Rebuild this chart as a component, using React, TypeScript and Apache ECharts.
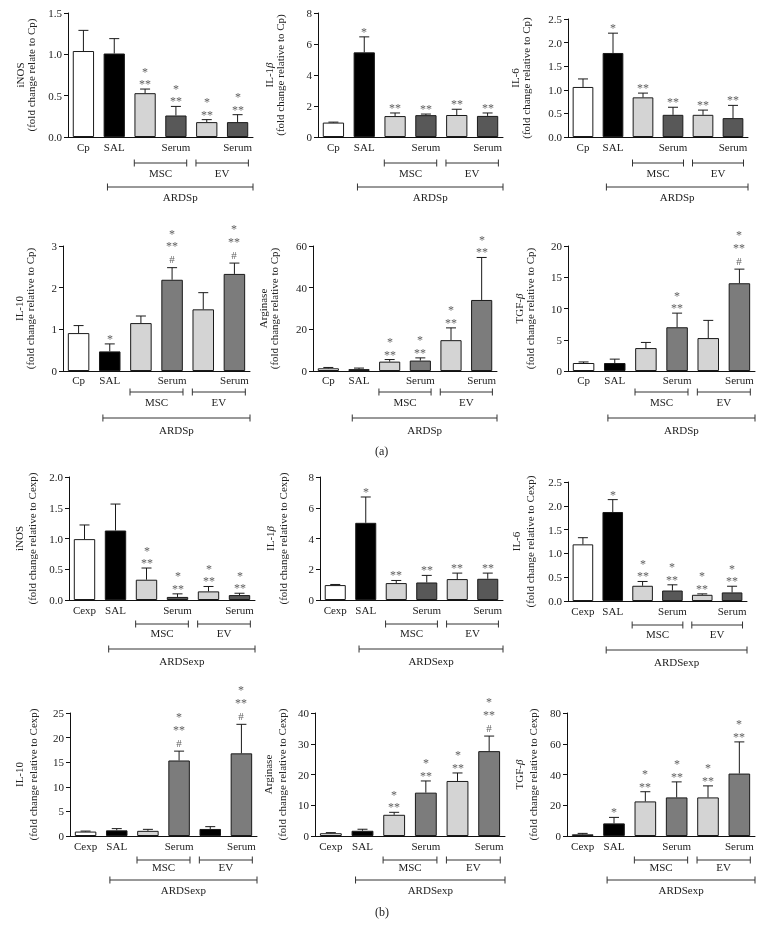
import React, { useEffect, useRef } from "react";
import * as echarts from "echarts";

// ---------- categories / labels ----------
const catsA = ["Cp", "SAL", "", "Serum", "", "Serum"];
const catsB = ["Cexp", "SAL", "", "Serum", "", "Serum"];
const groupLabels = ["MSC", "EV"];
const ardsA = "ARDSp";
const ardsB = "ARDSexp";

// ---------- (a) panels ----------
const inosCp = [1.04, 1.01, 0.53, 0.26, 0.18, 0.18];
const inosCpErr = [0.25, 0.18, 0.05, 0.11, 0.03, 0.09];
const inosCpSig = ["", "", "*\n**", "*\n**", "*\n**", "*\n**"];

const il1bCp = [0.93, 5.46, 1.35, 1.41, 1.42, 1.36];
const il1bCpErr = [0.03, 1.0, 0.2, 0.07, 0.37, 0.19];
const il1bCpSig = ["", "*", "**", "**", "**", "**"];

const il6Cp = [1.06, 1.78, 0.84, 0.47, 0.47, 0.4];
const il6CpErr = [0.17, 0.42, 0.09, 0.16, 0.1, 0.27];
const il6CpSig = ["", "*", "**", "**", "**", "**"];

const il10Cp = [0.91, 0.47, 1.15, 2.19, 1.48, 2.33];
const il10CpErr = [0.18, 0.18, 0.17, 0.29, 0.4, 0.26];
const il10CpSig = ["", "*", "", "*\n**\n#", "", "*\n**\n#"];

const argCp = [1.3, 0.9, 4.5, 5.0, 14.8, 34.1];
const argCpErr = [0.4, 0.5, 1.0, 1.3, 5.9, 20.4];
const argCpSig = ["", "", "*\n**", "*\n**", "*\n**", "*\n**"];

const tgfCp = [1.28, 1.28, 3.67, 7.0, 5.27, 14.04];
const tgfCpErr = [0.17, 0.62, 0.9, 2.26, 2.83, 2.26];
const tgfCpSig = ["", "", "", "*\n**", "", "*\n**\n#"];

// ---------- (b) panels ----------
const inosCexp = [0.99, 1.13, 0.33, 0.05, 0.14, 0.08];
const inosCexpErr = [0.23, 0.43, 0.19, 0.05, 0.08, 0.03];
const inosCexpSig = ["", "", "*\n**", "*\n**", "*\n**", "*\n**"];

const il1bCexp = [0.97, 5.02, 1.1, 1.14, 1.36, 1.38];
const il1bCexpErr = [0.04, 1.68, 0.17, 0.46, 0.39, 0.37];
const il1bCexpSig = ["", "*", "**", "**", "**", "**"];

const il6Cexp = [1.19, 1.87, 0.32, 0.22, 0.13, 0.18];
const il6CexpErr = [0.14, 0.26, 0.09, 0.12, 0.02, 0.13];
const il6CexpSig = ["", "*", "*\n**", "*\n**", "*\n**", "*\n**"];

const il10Cexp = [0.9, 1.15, 1.05, 15.35, 1.43, 16.8];
const il10CexpErr = [0.1, 0.35, 0.3, 1.9, 0.47, 5.9];
const il10CexpSig = ["", "", "", "*\n**\n#", "", "*\n**\n#"];

const argCexp = [0.9, 1.7, 6.9, 14.1, 17.9, 27.6];
const argCexpErr = [0.2, 0.5, 0.8, 3.8, 2.6, 4.9];
const argCexpSig = ["", "", "*\n**", "*\n**", "*\n**", "*\n**\n#"];

const tgfCexp = [1.1, 8.2, 22.5, 25.1, 25.1, 40.6];
const tgfCexpErr = [0.6, 3.9, 6.3, 10.1, 7.5, 20.6];
const tgfCexpSig = ["", "*", "*\n**", "*\n**", "*\n**", "*\n**"];

// ---------- styles ----------
const FONT = "'Liberation Serif', 'DejaVu Serif', serif";
const W = "#ffffff";
const K = "#000000";
const L = "#d4d4d4";
const D = "#585858";
const M = "#7c7c7c";
const palDark = [W, K, L, D, L, D];
const palMid = [W, K, L, M, L, M];
const palIL10b = [W, K, L, M, K, M];

type Panel = {
  vals: number[];
  errs: number[];
  sigs: string[];
  cats: string[];
  ards: string;
  name: string;
  max: number;
  interval: number;
  dec: boolean;
  pal: string[];
  rect: [number, number, number, number];
  nameGap: number;
  nameLH: number;
  offs: number[];
};

const offA1 = [4, 26, 36, 50, 60];
const offA2 = [3, 21, 31, 47, 59];
const offB1 = [4, 24, 33, 49, 61];
const offB2 = [4, 24, 31, 44, 54];

const panels: Panel[] = [
  { vals: inosCp, errs: inosCpErr, sigs: inosCpSig, cats: catsA, ards: ardsA, name: "iNOS\n(fold change relate to Cp)", max: 1.5, interval: 0.5, dec: true, pal: palDark, rect: [68, 13, 185, 124], nameGap: 32, nameLH: 11, offs: offA1 },
  { vals: il1bCp, errs: il1bCpErr, sigs: il1bCpSig, cats: catsA, ards: ardsA, name: "IL-1{i|β}\n(fold change relative to Cp)", max: 8, interval: 2, dec: false, pal: palDark, rect: [318, 13, 185, 124], nameGap: 33, nameLH: 11, offs: offA1 },
  { vals: il6Cp, errs: il6CpErr, sigs: il6CpSig, cats: catsA, ards: ardsA, name: "IL-6\n(fold change relative to Cp)", max: 2.5, interval: 0.5, dec: true, pal: palDark, rect: [568, 19, 180, 118], nameGap: 37, nameLH: 11, offs: offA1 },
  { vals: il10Cp, errs: il10CpErr, sigs: il10CpSig, cats: catsA, ards: ardsA, name: "IL-10\n(fold change relative to Cp)", max: 3, interval: 1, dec: false, pal: palMid, rect: [63, 246, 187, 125], nameGap: 28, nameLH: 11, offs: offA2 },
  { vals: argCp, errs: argCpErr, sigs: argCpSig, cats: catsA, ards: ardsA, name: "Arginase\n(fold change relative to Cp)", max: 60, interval: 20, dec: false, pal: palMid, rect: [313, 246, 184, 125], nameGap: 34, nameLH: 11, offs: offA2 },
  { vals: tgfCp, errs: tgfCpErr, sigs: tgfCpSig, cats: catsA, ards: ardsA, name: "TGF-{i|β}\n(fold change relative to Cp)", max: 20, interval: 5, dec: false, pal: palMid, rect: [568, 246, 187, 125], nameGap: 33, nameLH: 11, offs: offA2 },
  { vals: inosCexp, errs: inosCexpErr, sigs: inosCexpSig, cats: catsB, ards: ardsB, name: "iNOS\n(fold change relative to Cexp)", max: 2, interval: 0.5, dec: true, pal: palDark, rect: [69, 477, 186, 123], nameGap: 31, nameLH: 13, offs: offB1 },
  { vals: il1bCexp, errs: il1bCexpErr, sigs: il1bCexpSig, cats: catsB, ards: ardsB, name: "IL-1{i|β}\n(fold change relative to Cexp)", max: 8, interval: 2, dec: false, pal: palDark, rect: [320, 477, 183, 123], nameGap: 31, nameLH: 13, offs: offB1 },
  { vals: il6Cexp, errs: il6CexpErr, sigs: il6CexpSig, cats: catsB, ards: ardsB, name: "IL-6\n(fold change relative to Cexp)", max: 2.5, interval: 0.5, dec: true, pal: palDark, rect: [568, 482, 179, 119], nameGap: 31, nameLH: 14, offs: offB1 },
  { vals: il10Cexp, errs: il10CexpErr, sigs: il10CexpSig, cats: catsB, ards: ardsB, name: "IL-10\n(fold change relative to Cexp)", max: 25, interval: 5, dec: false, pal: palIL10b, rect: [70, 713, 187, 123], nameGap: 30, nameLH: 14, offs: offB2 },
  { vals: argCexp, errs: argCexpErr, sigs: argCexpSig, cats: catsB, ards: ardsB, name: "Arginase\n(fold change relative to Cexp)", max: 40, interval: 10, dec: false, pal: palMid, rect: [315, 713, 190, 123], nameGap: 26, nameLH: 14, offs: offB2 },
  { vals: tgfCexp, errs: tgfCexpErr, sigs: tgfCexpSig, cats: catsB, ards: ardsB, name: "TGF-{i|β}\n(fold change relative to Cexp)", max: 80, interval: 20, dec: false, pal: palMid, rect: [567, 713, 188, 123], nameGap: 27, nameLH: 14, offs: offB2 },
];

const SIG_STEP = 12.5;

function buildOption() {
  const grid: any[] = [];
  const xAxis: any[] = [];
  const yAxis: any[] = [];
  const series: any[] = [];

  panels.forEach((p, idx) => {
    grid.push({ left: p.rect[0], top: p.rect[1], width: p.rect[2], height: p.rect[3], containLabel: false });
    xAxis.push({
      type: "category",
      gridIndex: idx,
      data: p.cats,
      axisLine: { show: true, lineStyle: { color: "#111", width: 1 } },
      axisTick: { show: false },
      axisLabel: { interval: 0, margin: p.offs[0], fontSize: 11, color: "#222", fontFamily: FONT },
      splitLine: { show: false },
    });
    yAxis.push({
      type: "value",
      gridIndex: idx,
      min: 0,
      max: p.max,
      interval: p.interval,
      axisLine: { show: true, lineStyle: { color: "#111", width: 1 } },
      axisTick: { show: true, length: 4, lineStyle: { color: "#111" } },
      splitLine: { show: false },
      axisLabel: {
        margin: 6,
        fontSize: 11,
        color: "#222",
        fontFamily: FONT,
        formatter: (v: number) => (p.dec ? v.toFixed(1) : String(v)),
      },
      name: p.name,
      nameLocation: "middle",
      nameRotate: 90,
      nameGap: p.nameGap,
      nameTextStyle: {
        fontSize: 11,
        color: "#222",
        fontFamily: FONT,
        lineHeight: p.nameLH,
        rich: {
          i: { fontSize: 11, fontStyle: "italic", color: "#222", fontFamily: FONT, lineHeight: p.nameLH },
        },
      },
    });

    series.push({
      type: "bar",
      xAxisIndex: idx,
      yAxisIndex: idx,
      barCategoryGap: "31%",
      data: p.vals.map((v, i) => ({
        value: v,
        itemStyle: { color: p.pal[i], borderColor: "#1a1a1a", borderWidth: 1 },
      })),
      z: 2,
    });

    series.push({
      type: "custom",
      xAxisIndex: idx,
      yAxisIndex: idx,
      clip: false,
      z: 4,
      data: p.vals.map((v, i) => [i, v, p.errs[i]]),
      renderItem: (_params: any, api: any) => {
        const i = api.value(0);
        const v = api.value(1);
        const e = api.value(2);
        const base = api.coord([i, v]);
        const top = api.coord([i, v + e]);
        const children: any[] = [
          { type: "line", shape: { x1: base[0], y1: base[1], x2: top[0], y2: top[1] }, style: { stroke: "#1a1a1a", lineWidth: 1 } },
          { type: "line", shape: { x1: top[0] - 5, y1: top[1], x2: top[0] + 5, y2: top[1] }, style: { stroke: "#1a1a1a", lineWidth: 1 } },
        ];
        const sig = p.sigs[i];
        if (sig) {
          const lines = sig.split("\n");
          const gap = sig.endsWith("#") ? 3 : -1;
          const n = lines.length;
          lines.forEach((ln, k) => {
            const fromBottom = n - 1 - k;
            children.push({
              type: "text",
              x: Math.round(top[0]),
              y: top[1] - gap - fromBottom * SIG_STEP,
              style: {
                text: ln,
                align: "center",
                verticalAlign: "bottom",
                textAlign: "center",
                textVerticalAlign: "bottom",
                fontSize: ln === "#" ? 11 : 12,
                fontFamily: FONT,
                fill: "#606060",
              },
            });
          });
        }
        return { type: "group", children };
      },
    });

    series.push({
      type: "custom",
      xAxisIndex: idx,
      yAxisIndex: idx,
      clip: false,
      z: 4,
      silent: true,
      data: [
        [2, 3, 0],
        [4, 5, 1],
        [1, 5, 2],
      ],
      renderItem: (_params: any, api: any) => {
        const a = api.value(0);
        const b = api.value(1);
        const kind = api.value(2);
        const catW = api.size([1, 0])[0];
        const y0 = api.coord([0, 0])[1];
        let x1: number, x2: number, y: number, ty: number, text: string;
        if (kind < 2) {
          x1 = api.coord([a, 0])[0] - catW * 0.35;
          x2 = api.coord([b, 0])[0] + catW * 0.35;
          y = y0 + p.offs[1];
          ty = y0 + p.offs[2];
          text = groupLabels[kind];
        } else {
          x1 = api.coord([a, 0])[0] - catW * 0.22;
          x2 = api.coord([b, 0])[0] + catW * 0.5;
          y = y0 + p.offs[3];
          ty = y0 + p.offs[4];
          text = p.ards;
        }
        const st = { stroke: "#333", lineWidth: 1 };
        return {
          type: "group",
          children: [
            { type: "line", shape: { x1, y1: y, x2, y2: y }, style: st },
            { type: "line", shape: { x1, y1: y - 3.5, x2: x1, y2: y + 3.5 }, style: st },
            { type: "line", shape: { x1: x2, y1: y - 3.5, x2, y2: y + 3.5 }, style: st },
            {
              type: "text",
              x: (x1 + x2) / 2,
              y: ty,
              style: {
                text,
                align: "center",
                verticalAlign: "middle",
                textAlign: "center",
                textVerticalAlign: "middle",
                fontSize: 11,
                fontFamily: FONT,
                fill: "#222",
              },
            },
          ],
        };
      },
    });
  });

  return {
    animation: false,
    backgroundColor: "#ffffff",
    grid,
    xAxis,
    yAxis,
    series,
    graphic: [
      { type: "text", left: 375, top: 445, style: { text: "(a)", fontSize: 12, fontFamily: FONT, fill: "#222" } },
      { type: "text", left: 375, top: 906, style: { text: "(b)", fontSize: 12, fontFamily: FONT, fill: "#222" } },
    ],
  };
}

export default function App() {
  const ref = useRef<HTMLDivElement>(null);
  useEffect(() => {
    if (!ref.current) return;
    const chart = echarts.init(ref.current, undefined, { renderer: "svg" });
    chart.setOption(buildOption() as any);
    return () => chart.dispose();
  }, []);
  return (
    <div
      ref={ref}
      style={{ position: "absolute", left: 0, top: 0, width: 766, height: 942, filter: "grayscale(1)" }}
    />
  );
}
